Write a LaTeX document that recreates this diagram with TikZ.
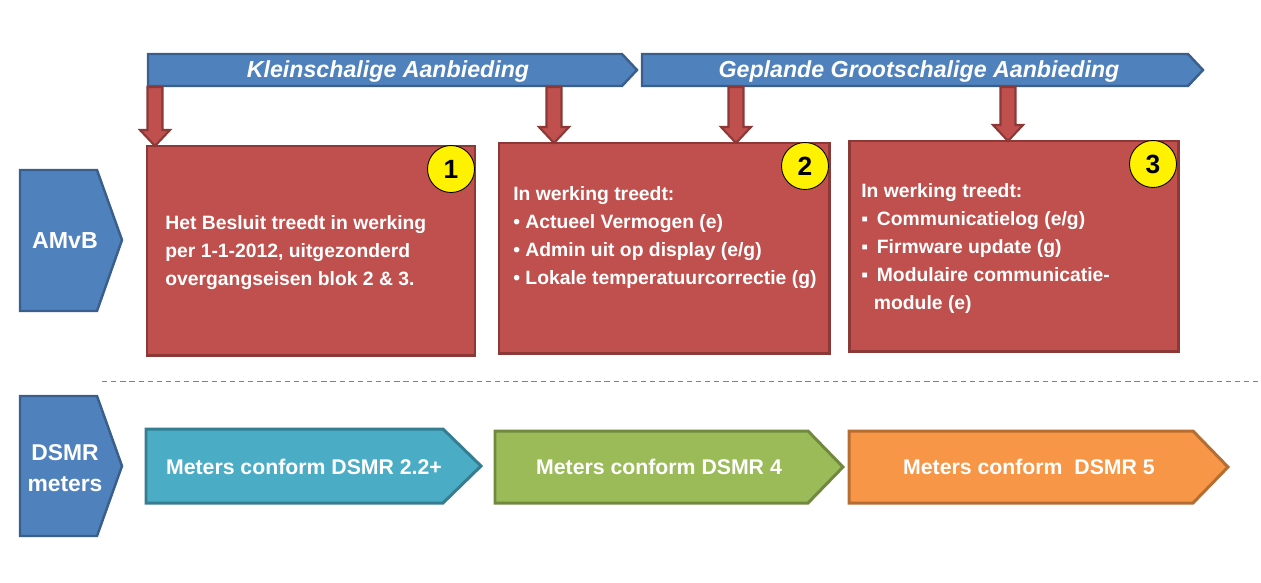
\documentclass[tikz,border=0pt]{standalone}
\usepackage{fontspec}
\setmainfont{Liberation Sans}
\usetikzlibrary{calc}
\definecolor{blauw}{HTML}{4F81BD}
\definecolor{blauwrand}{HTML}{3A5F8C}
\definecolor{rood}{HTML}{C0504D}
\definecolor{roodrand}{HTML}{8C3836}
\definecolor{cyaan}{HTML}{4BACC6}
\definecolor{cyaanrand}{HTML}{357D91}
\definecolor{groen}{HTML}{9BBB59}
\definecolor{groenrand}{HTML}{71893F}
\definecolor{oranje}{HTML}{F79646}
\definecolor{oranjerand}{HTML}{B66D31}

\newcommand{\neerpijl}[2]{%
  \draw[neer] ($(#1)+(-7.5,0)$) -- ($(#1)+(7.5,0)$) -- ($(#2)+(7.5,-16)$)
    -- ($(#2)+(15,-16)$) -- (#2) -- ($(#2)+(-15,-16)$) -- ($(#2)+(-7.5,-16)$) -- cycle;}

\begin{document}
\begin{tikzpicture}[x=0.02cm,y=-0.02cm,
    balk/.style={fill=blauw,draw=blauwrand,line width=1.4pt},
    blok/.style={fill=rood,draw=roodrand,line width=1.7pt},
    neer/.style={fill=rood,draw=roodrand,line width=1.2pt},
    nummer/.style={circle,fill=yellow,draw=black,line width=0.5pt,minimum size=0.94cm,
      inner sep=0pt,font=\bfseries\fontsize{15}{15}\selectfont},
    wit/.style={text=white,font=\bfseries\fontsize{11}{15.9}\selectfont,align=left,inner sep=0pt},
    kop/.style={text=white,font=\bfseries\itshape\fontsize{13.2}{13.2}\selectfont,inner sep=0pt},
    meter/.style={text=white,font=\bfseries\fontsize{12.1}{12.1}\selectfont,inner sep=0pt}]

    \useasboundingbox (0,0) rectangle (1261,582);

    \draw[balk] (148,54) -- (622,54) -- (637,70) -- (622,86) -- (148,86) -- cycle;
    \draw[balk] (642,54) -- (1188,54) -- (1203,70) -- (1188,86) -- (642,86) -- cycle;
    \node[kop] (klein) at (388,71) {Kleinschalige Aanbieding};
    \node[kop] (groot) at (919,71) {Geplande Grootschalige Aanbieding};

    \draw[balk] (20,170) -- (97,170) -- (122,240) -- (97,311) -- (20,311) -- cycle;
    \node[text=white,font=\bfseries\fontsize{13.2}{13.2}\selectfont] (amvb) at (65,241) {AMvB};

    \draw[blok] (147,146) rectangle (475,355);
    \draw[blok] (499,143) rectangle (829,353);
    \draw[blok] (849,141) rectangle (1178,351);

    \coordinate (p1) at (155,87);
    \coordinate (p2) at (554,87);
    \coordinate (p3) at (736,87);
    \coordinate (p4) at (1008,87);
    \coordinate (t1) at (155,146);
    \coordinate (t2) at (554,143);
    \coordinate (t3) at (736,143);
    \coordinate (t4) at (1008,141);
    \neerpijl{p1}{t1}
    \neerpijl{p2}{t2}
    \neerpijl{p3}{t3}
    \neerpijl{p4}{t4}

    \node[nummer] (n1) at (451,169) {1};
    \node[nummer] (n2) at (805,166) {2};
    \node[nummer] (n3) at (1153,164) {3};

    \node[wit,anchor=north west] (tekst1) at (165,215)
      {Het Besluit treedt in werking\\per 1-1-2012, uitgezonderd\\overgangseisen blok 2 \& 3.};
    \node[wit,anchor=north west] (tekst2) at (513,186)
      {In werking treedt:\\• Actueel Vermogen (e)\\• Admin uit op display (e/g)\\• Lokale temperatuurcorrectie (g)};
    \node[wit,anchor=north west] (tekst3) at (861,183)
      {In werking treedt:\\▪\hspace{0.45em}Communicatielog (e/g)\\▪\hspace{0.45em}Firmware update (g)\\▪\hspace{0.45em}Modulaire communicatie-\\\hspace*{0.65em}module (e)};

    \draw[gray,dashed,dash pattern=on 3pt off 2.2pt] (102,381) -- (1261,381);

    \draw[balk] (20,396) -- (97,396) -- (122,466) -- (97,536) -- (20,536) -- cycle;
    \node[text=white,font=\bfseries\fontsize{13}{18}\selectfont,align=center] (dsmr) at (65,468) {DSMR\\meters};

    \draw[fill=cyaan,draw=cyaanrand,line width=1.7pt] (146,429) -- (443,429) -- (481,466) -- (443,503) -- (146,503) -- cycle;
    \draw[fill=groen,draw=groenrand,line width=1.7pt] (495,431) -- (808,431) -- (843,467) -- (808,503) -- (495,503) -- cycle;
    \draw[fill=oranje,draw=oranjerand,line width=1.7pt] (849,431) -- (1193,431) -- (1228,467) -- (1193,503) -- (849,503) -- cycle;
    \node[meter] (m1) at (304,467) {Meters conform DSMR 2.2+};
    \node[meter] (m2) at (659,467) {Meters conform DSMR 4};
    \node[meter] (m3) at (1029,467) {Meters conform\ \ DSMR 5};

\end{tikzpicture}
\end{document}
